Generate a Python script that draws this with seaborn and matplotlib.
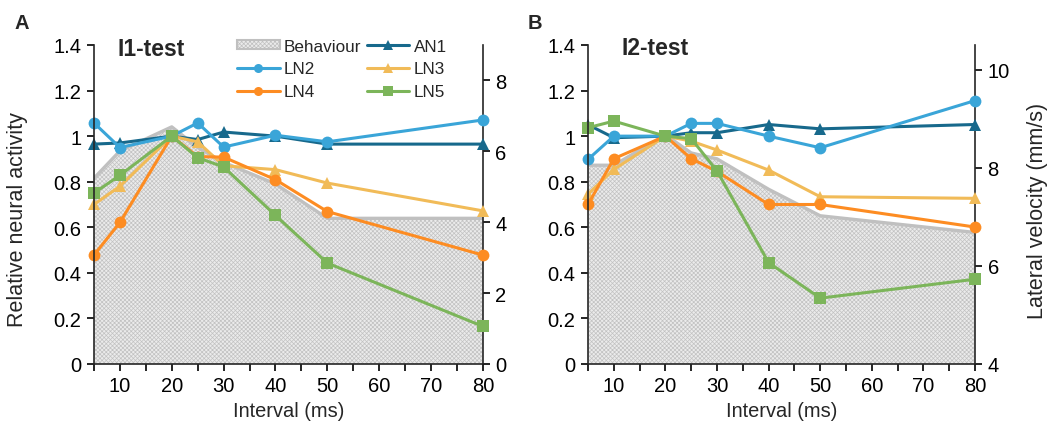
import numpy as np
import pandas as pd
import matplotlib
matplotlib.use("Agg")
import matplotlib.pyplot as plt
from matplotlib.lines import Line2D
from matplotlib.patches import Patch
import seaborn as sns

# ---- data ----
intervals = [5, 10, 20, 25, 30, 40, 50, 80]
neurons = ["AN1", "LN2", "LN3", "LN4", "LN5"]

# panel A (I1-test), relative neural activity
a_an1 = [0.965, 0.97, 1.0, 0.985, 1.018, 1.0, 0.965, 0.965]
a_ln2 = [1.058, 0.95, 1.0, 1.058, 0.952, 1.004, 0.975, 1.071]
a_ln3 = [0.70, 0.78, 1.0, 0.975, 0.87, 0.853, 0.794, 0.672]
a_ln4 = [0.478, 0.621, 1.0, 0.91, 0.908, 0.809, 0.669, 0.478]
a_ln5 = [0.75, 0.828, 1.0, 0.905, 0.865, 0.652, 0.443, 0.165]
# behaviour, lateral velocity (mm/s)
a_behav = [5.24, 6.01, 6.69, 6.11, 5.69, 5.08, 4.11, 4.11]

# panel B (I2-test)
b_an1 = [1.05, 0.993, 1.0, 1.015, 1.015, 1.051, 1.032, 1.051]
b_ln2 = [0.898, 1.0, 1.0, 1.056, 1.056, 1.0, 0.949, 1.156]
b_ln3 = [0.745, 0.854, 1.0, 0.978, 0.939, 0.851, 0.734, 0.727]
b_ln4 = [0.70, 0.901, 1.0, 0.901, 0.845, 0.70, 0.70, 0.601]
b_ln5 = [1.037, 1.066, 1.0, 0.989, 0.847, 0.445, 0.289, 0.372]
b_behav = [8.05, 8.05, 8.67, 8.30, 8.18, 7.56, 7.02, 6.68]

colors = {"AN1": "#17698c", "LN2": "#3aa5d8", "LN3": "#f1bb58",
          "LN4": "#fd8c22", "LN5": "#7cb55a"}
markers = {"AN1": "^", "LN2": "o", "LN3": "^", "LN4": "o", "LN5": "s"}

sns.set_style("ticks")
plt.rcParams["font.family"] = ["Liberation Sans", "DejaVu Sans"]
plt.rcParams["hatch.linewidth"] = 0.5
plt.rcParams["axes.linewidth"] = 1.2


def long_df(series):
    rows = []
    for name, vals in zip(neurons, series):
        for x, v in zip(intervals, vals):
            rows.append({"interval": x, "activity": v, "neuron": name})
    return pd.DataFrame(rows)


def draw_panel(rect, series, behav, rlim, rticks):
    ax = fig.add_axes(rect)
    ax2 = ax.twinx()
    ax.set_zorder(ax2.get_zorder() + 1)
    ax.patch.set_visible(False)

    # behaviour on the right axis
    ax2.fill_between(intervals, behav, rlim[0], facecolor="#ebebeb",
                     hatch="xxxxxxxx", edgecolor="#c2c2c2", linewidth=0)
    ax2.plot(intervals, behav, color="#c0c0c0", lw=2.4)
    ax2.set_ylim(*rlim)
    ax2.set_yticks(rticks)
    ax2.set_yticklabels([str(t) for t in rticks])

    df = long_df(series)
    sns.lineplot(data=df, x="interval", y="activity", hue="neuron",
                 style="neuron", hue_order=neurons, style_order=neurons,
                 palette=colors, markers=markers, dashes=False,
                 errorbar=None, legend=False, lw=2.2, ms=8.5, mew=0,
                 clip_on=False, ax=ax)

    ax.set_xlim(5, 80)
    ax.set_ylim(0, 1.4)
    xt = list(range(5, 85, 5))
    ax.set_xticks(xt)
    ax.set_xticklabels([str(v) if v % 10 == 0 else "" for v in xt])
    yt = [0, 0.2, 0.4, 0.6, 0.8, 1.0, 1.2, 1.4]
    ax.set_yticks(yt)
    ax.set_yticklabels([f"{v:g}" for v in yt])
    ax.set_xlabel("Interval (ms)", fontsize=14.4)
    ax.xaxis.set_label_coords(0.5, -0.115)
    ax.set_ylabel("")

    for a in (ax, ax2):
        a.tick_params(direction="out", length=5, width=1.2, labelsize=14.5,
                      colors="black", pad=4)
        a.spines["top"].set_visible(False)
    ax.spines["right"].set_visible(False)
    ax2.spines["left"].set_visible(False)
    ax2.spines["bottom"].set_visible(False)
    return ax, ax2


fig = plt.figure(figsize=(10.51, 4.27), dpi=100)

axA, axA2 = draw_panel([0.0894, 0.1452, 0.3701, 0.7471],
                       [a_an1, a_ln2, a_ln3, a_ln4, a_ln5], a_behav,
                       (0, 9), [0, 2, 4, 6, 8])
axB, axB2 = draw_panel([0.5595, 0.1452, 0.3682, 0.7471],
                       [b_an1, b_ln2, b_ln3, b_ln4, b_ln5], b_behav,
                       (4, 10.5), [4, 6, 8, 10])

fig.text(18 / 1051, 0.485, "Relative neural activity", fontsize=15.5,
         rotation=90, ha="center", va="center")
fig.text(1038 / 1051, 0.506, "Lateral velocity (mm/s)", fontsize=15.5,
         rotation=90, ha="center", va="center")

fig.text(0.112, 0.885, "I1-test", fontsize=16.5, fontweight="bold", va="center")
fig.text(0.5915, 0.887, "I2-test", fontsize=16.5, fontweight="bold", va="center")
fig.text(0.014, 0.944, "A", fontsize=14.5, fontweight="bold", va="center")
fig.text(0.502, 0.944, "B", fontsize=14.5, fontweight="bold", va="center")

# legend (row order: Behaviour, AN1 / LN2, LN3 / LN4, LN5)
beh_patch = Patch(facecolor="#ebebeb", hatch="xxxxxxxx", edgecolor="#c0c0c0",
                  linewidth=1.5, label="Behaviour")


def lh(name):
    return Line2D([], [], color=colors[name], marker=markers[name], lw=2.2,
                  ms=6.5, mew=0, label=name)


handles = [beh_patch, lh("LN2"), lh("LN4"), lh("AN1"), lh("LN3"), lh("LN5")]
fig.legend(handles=handles, ncol=2, loc="upper left",
           bbox_to_anchor=(0.2255, 0.907), frameon=False, fontsize=12.3,
           handlelength=2.5, handleheight=0.45, handletextpad=0.25,
           columnspacing=0.3, labelspacing=0.45, borderpad=0,
           borderaxespad=0)

fig.savefig("out.png", dpi=100)
